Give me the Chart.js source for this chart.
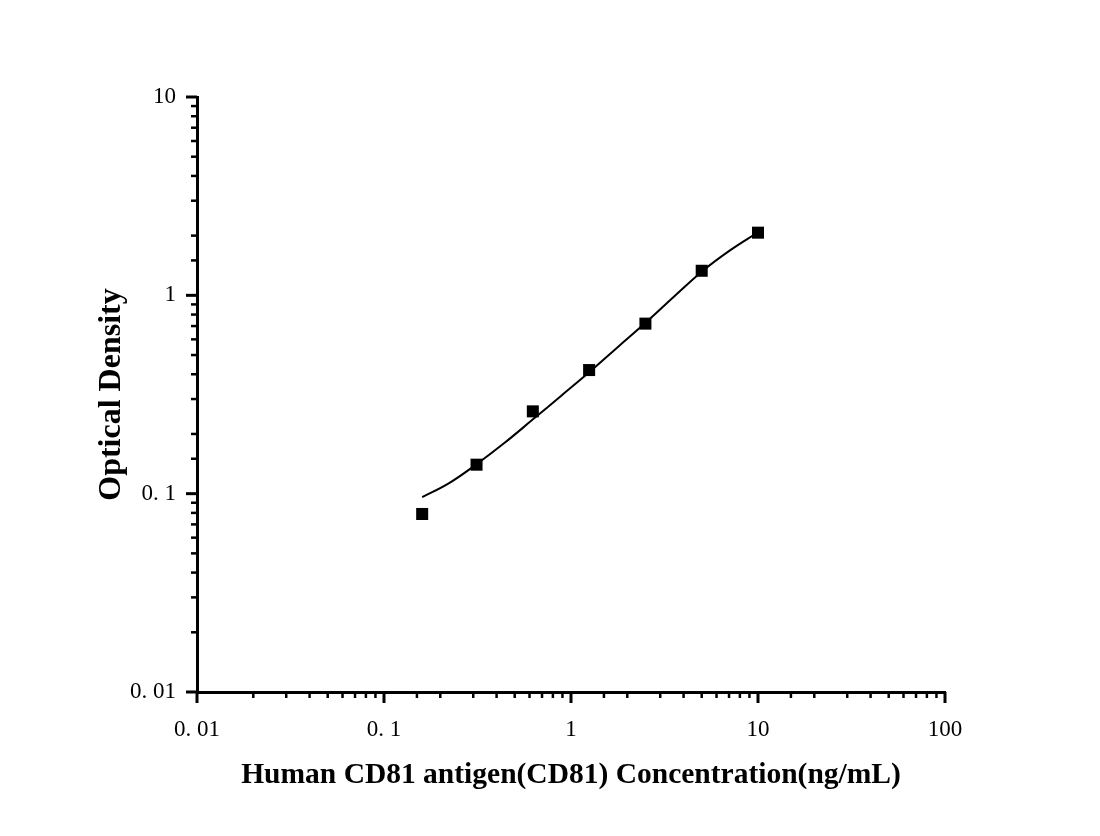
<!DOCTYPE html>
<html>
<head>
<meta charset="utf-8">
<script src="https://cdn.jsdelivr.net/npm/chart.js@4"></script>
<style>
  html, body { margin: 0; padding: 0; background: #fff; }
  #wrap { width: 1100px; height: 836px; }
</style>
</head>
<body>
<div id="wrap"><canvas id="odChart"></canvas></div>
<script>
// standard points (ng/mL vs OD)
const concentrations = [0.16, 0.3125, 0.625, 1.25, 2.5, 5, 10];
const odValues = [0.079, 0.14, 0.26, 0.42, 0.72, 1.33, 2.07];

// fitted curve
const curveX = [0.16, 0.223, 0.31, 0.44, 0.626, 0.884, 1.25, 1.77, 2.52, 3.56, 5.02, 7.08, 10];
const curveY = [0.096, 0.113, 0.14, 0.18, 0.237, 0.311, 0.409, 0.546, 0.731, 0.986, 1.32, 1.685, 2.08];

const xLabels = { 0.01: '0. 01', 0.1: '0. 1', 1: '1', 10: '10', 100: '100' };
const yLabels = { 0.01: '0. 01', 0.1: '0. 1', 1: '1', 10: '10' };

const isMajor = v => Math.abs(Math.log10(v) - Math.round(Math.log10(v))) < 1e-6;

// outward ticks, long on decades, short between
const logTicks = {
    id: 'logTicks',
    afterDraw(chart) {
        const ctx = chart.ctx;
        ctx.save();
        ctx.strokeStyle = '#000';
        ['x', 'y'].forEach(id => {
            const scale = chart.scales[id];
            scale.ticks.forEach((t, i) => {
                const major = isMajor(t.value);
                const len = major ? 11 : 6;
                const p = scale.getPixelForTick(i);
                ctx.lineWidth = major ? 3 : 2.5;
                ctx.beginPath();
                if (id === 'x') {
                    ctx.moveTo(p, scale.top);
                    ctx.lineTo(p, scale.top + len);
                } else {
                    ctx.moveTo(scale.right, p);
                    ctx.lineTo(scale.right - len, p);
                }
                ctx.stroke();
            });
        });
        ctx.restore();
    }
};

const ctx = document.getElementById('odChart').getContext('2d');
new Chart(ctx, {
    type: 'scatter',
    data: {
        datasets: [{
            label: 'curve',
            type: 'line',
            data: curveX.map((x, i) => ({ x: x, y: curveY[i] })),
            borderColor: '#000',
            borderWidth: 2,
            pointRadius: 0,
            fill: false,
            showLine: true,
            tension: 0.4
        }, {
            label: 'standards',
            data: concentrations.map((x, i) => ({ x: x, y: odValues[i] })),
            pointStyle: 'rect',
            pointRadius: 8.5,
            backgroundColor: '#000',
            borderColor: '#000',
            borderWidth: 0
        }]
    },
    options: {
        responsive: true,
        maintainAspectRatio: false,
        animation: false,
        layout: {
            padding: { left: 89, top: 97, right: 155, bottom: 39 }
        },
        scales: {
            x: {
                type: 'logarithmic',
                min: 0.01,
                max: 100,
                grid: { display: false },
                border: { display: true, color: '#000', width: 3 },
                ticks: {
                    autoSkip: false,
                    maxRotation: 0,
                    padding: 16,
                    color: '#000',
                    font: { family: 'Liberation Serif', size: 23 },
                    callback: v => xLabels[v] !== undefined && isMajor(v) ? xLabels[v] : ''
                },
                title: {
                    display: true,
                    text: 'Human CD81 antigen(CD81) Concentration(ng/mL)',
                    color: '#000',
                    font: { family: 'Liberation Serif', size: 29.5, weight: 'bold' }
                },
                afterFit: scale => { scale.height = 105; }
            },
            y: {
                type: 'logarithmic',
                min: 0.01,
                max: 10,
                grid: { display: false },
                border: { display: true, color: '#000', width: 3 },
                ticks: {
                    autoSkip: false,
                    padding: 13,
                    color: '#000',
                    font: { family: 'Liberation Serif', size: 23 },
                    callback: v => yLabels[v] !== undefined && isMajor(v) ? yLabels[v] : ''
                },
                title: {
                    display: true,
                    text: 'Optical Density',
                    color: '#000',
                    font: { family: 'Liberation Serif', size: 32, weight: 'bold' }
                },
                afterFit: scale => { scale.width = 108; }
            }
        },
        plugins: {
            legend: { display: false },
            tooltip: { enabled: false }
        }
    },
    plugins: [logTicks]
});
</script>
</body>
</html>
